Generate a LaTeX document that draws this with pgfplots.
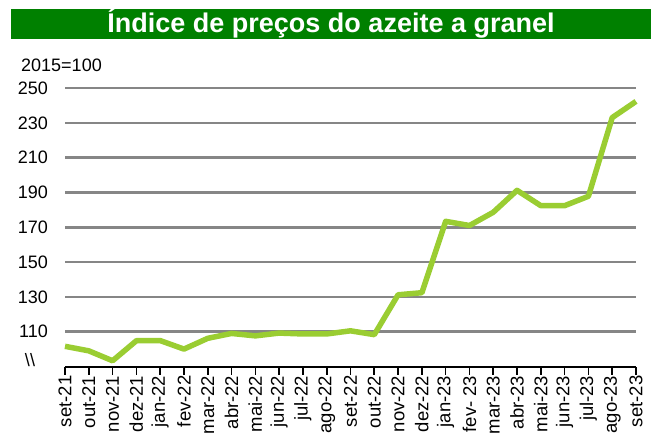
\documentclass[border=0pt]{standalone}
\usepackage{pgfplots}
\pgfplotsset{compat=1.18}
\usepackage{fontspec}
\setmainfont{Liberation Sans}
\definecolor{titlegreen}{RGB}{0,128,0}
\definecolor{linegreen}{RGB}{154,205,50}
\definecolor{gridgray}{RGB}{134,134,134}

\begin{document}
\begin{tikzpicture}[x=1pt,y=1pt]
  \useasboundingbox (0,0) rectangle (655,432);
  % title bar
  \fill[titlegreen] (11,392.5) rectangle (650.5,423);
  \node[text=white,font=\bfseries\fontsize{27}{27}\selectfont] at (331,409) {Índice de preços do azeite a granel};
  \node[anchor=west,inner sep=0pt,font=\fontsize{18}{18}\selectfont] at (21,367) {2015=100};
  \node[inner sep=0pt,font=\fontsize{18}{18}\selectfont] at (30,72) {\textbackslash\textbackslash};

  \begin{axis}[
      at={(65pt,65.5pt)}, anchor=south west,
      scale only axis,
      width=571pt, height=278.5pt,
      xmin=0, xmax=24, ymin=90, ymax=250,
      axis lines*=left,
      y axis line style={draw=none},
      x axis line style={line width=2pt,-},
      xtick={0,...,24},
      xticklabels={set-21,out-21,nov-21,dez-21,jan-22,fev-22,mar-22,abr-22,mai-22,jun-22,jul-22,ago-22,set-22,out-22,nov-22,dez-22,jan-23,fev- 23,mar-23,abr-23,mai-23,jun-23,jul-23,ago-23,set-23},
      xtick align=outside,
      major tick length=8pt,
      xtick style={line width=1.6pt,black},
      xticklabel style={rotate=90,anchor=east,inner sep=1pt,font=\fontsize{18.5}{18.5}\selectfont},
      ytick={110,130,...,250},
      ymajorgrids,
      grid style={gridgray,line width=2.5pt},
      yticklabel style={anchor=east,inner sep=0pt,xshift=-17pt,font=\fontsize{18}{18}\selectfont},
      ytick style={draw=none},
      /pgf/number format/assume math mode=true,
      clip=false,
    ]
    \addplot[linegreen,line width=5.5pt,line join=round] coordinates {
      (0,101.6) (1,99.0) (2,93.3) (3,104.8) (4,104.9) (5,100.0) (6,106.2)
      (7,109.0) (8,107.6) (9,109.2) (10,108.7) (11,108.7) (12,110.5) (13,108.3)
      (14,131.2) (15,132.4) (16,173.4) (17,171.0) (18,178.6) (19,191.2)
      (20,182.4) (21,182.4) (22,187.8) (23,233.0) (24,242.3)
    };
  \end{axis}
\end{tikzpicture}
\end{document}
